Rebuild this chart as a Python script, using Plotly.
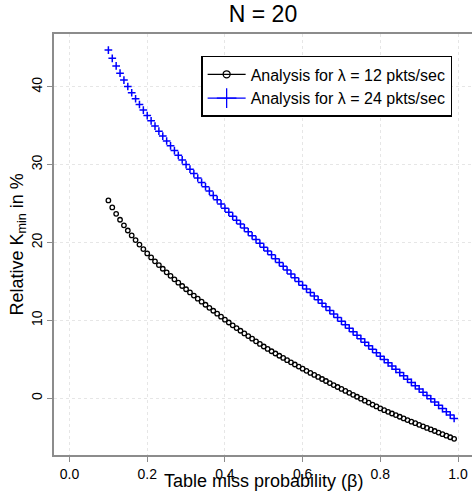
import plotly.graph_objects as go

# ── DATA ──────────────────────────────────────────────────────────────────────

BETA = [round(0.10 + 0.01 * i, 2) for i in range(90)]

K_LAMBDA_12 = [
    25.40, 24.50, 23.68, 22.92, 22.21, 21.54, 20.91, 20.31, 19.73, 19.16,
    18.60, 18.08, 17.58, 17.10, 16.63, 16.17, 15.72, 15.28, 14.85, 14.42,
    14.00, 13.59, 13.19, 12.79, 12.40, 12.01, 11.62, 11.24, 10.86, 10.48,
    10.10, 9.73, 9.37, 9.02, 8.67, 8.33, 7.99, 7.65, 7.31, 6.98,
    6.65, 6.34, 6.04, 5.75, 5.46, 5.18, 4.90, 4.62, 4.34, 4.07,
    3.80, 3.53, 3.26, 3.00, 2.74, 2.48, 2.22, 1.96, 1.70, 1.45,
    1.20, 0.95, 0.70, 0.45, 0.20, -0.05, -0.30, -0.55, -0.80, -1.05,
    -1.30, -1.52, -1.74, -1.95, -2.16, -2.37, -2.58, -2.79, -3.00, -3.20,
    -3.40, -3.60, -3.80, -4.00, -4.20, -4.40, -4.60, -4.80, -5.00, -5.20,
]

K_LAMBDA_24 = [
    44.70, 43.65, 42.67, 41.74, 40.86, 40.03, 39.23, 38.46, 37.72, 37.00,
    36.30, 35.62, 34.95, 34.30, 33.66, 33.03, 32.41, 31.80, 31.20, 30.60,
    30.00, 29.42, 28.85, 28.28, 27.72, 27.16, 26.60, 26.05, 25.50, 24.95,
    24.40, 23.89, 23.38, 22.87, 22.37, 21.87, 21.37, 20.87, 20.38, 19.89,
    19.40, 18.91, 18.42, 17.93, 17.44, 16.95, 16.46, 15.97, 15.48, 14.99,
    14.50, 14.04, 13.58, 13.12, 12.66, 12.20, 11.74, 11.28, 10.82, 10.36,
    9.90, 9.45, 9.00, 8.55, 8.10, 7.65, 7.20, 6.75, 6.30, 5.85,
    5.40, 4.98, 4.56, 4.14, 3.72, 3.30, 2.88, 2.46, 2.04, 1.62,
    1.20, 0.78, 0.36, -0.06, -0.48, -0.90, -1.32, -1.74, -2.16, -2.58,
]

X_TICKS = [0.0, 0.2, 0.4, 0.6, 0.8, 1.0]
X_TICK_LABELS = ["0.0", "0.2", "0.4", "0.6", "0.8", "1.0"]
Y_TICKS = [0, 10, 20, 30, 40]

NAME_12 = "Analysis for λ = 12 pkts/sec"
NAME_24 = "Analysis for λ = 24 pkts/sec"

# ── PLOT ──────────────────────────────────────────────────────────────────────

FONT = "Liberation Sans, Arial, sans-serif"
AXIS_GREY = "#8c8c8c"
GRID = "#e6e6e6"

fig = go.Figure()

fig.add_trace(go.Scatter(
    x=BETA, y=K_LAMBDA_12, mode="markers", showlegend=False,
    marker=dict(symbol="circle-open", size=4.5, color="black", line=dict(width=1.3)),
))
fig.add_trace(go.Scatter(
    x=BETA, y=K_LAMBDA_24, mode="markers", showlegend=False,
    marker=dict(symbol="cross-thin", size=5.5, color="blue", line=dict(width=1.5, color="blue")),
))

# legend entries (line + symbol, like the reference key)
fig.add_trace(go.Scatter(
    x=[None], y=[None], mode="lines+markers", name=NAME_12,
    line=dict(color="black", width=1.3),
    marker=dict(symbol="circle-open", size=7, color="black", line=dict(width=1.3)),
))
fig.add_trace(go.Scatter(
    x=[None], y=[None], mode="lines+markers", name=NAME_24,
    line=dict(color="blue", width=1.3),
    marker=dict(symbol="cross-thin", size=14, color="blue", line=dict(width=1.3, color="blue")),
))

fig.update_layout(
    width=472, height=493,
    margin=dict(l=54, r=0, t=34, b=38),
    paper_bgcolor="white",
    plot_bgcolor="white",
    font=dict(family=FONT, color="black", size=14),
    title=dict(text="N = 20", x=0.5, xref="paper", y=1 - 14 / 493, yanchor="middle",
               font=dict(size=23, family=FONT)),
    xaxis=dict(
        range=[-0.04, 1.036],
        tickvals=X_TICKS, ticktext=X_TICK_LABELS,
        showgrid=True, gridcolor=GRID, griddash="dot", gridwidth=1,
        zeroline=False, automargin=False,
        showline=True, linecolor=AXIS_GREY, linewidth=1.5, mirror=True,
        ticks="outside", ticklen=5, tickcolor=AXIS_GREY,
        tickfont=dict(size=14),
    ),
    yaxis=dict(
        range=[-7.28, 46.77],
        tickvals=Y_TICKS,
        showgrid=True, gridcolor=GRID, griddash="dot", gridwidth=1,
        zeroline=False, automargin=False,
        showline=True, linecolor=AXIS_GREY, linewidth=1.5,
        ticks="outside", ticklen=5, tickcolor=AXIS_GREY,
        tickangle=-90,
        tickfont=dict(size=14),
    ),
    legend=dict(
        x=0.352, y=0.948, xanchor="left", yanchor="top",
        bgcolor="white", bordercolor="black", borderwidth=1.5,
        font=dict(size=16),
        itemwidth=38,
        tracegroupgap=0,
    ),
    annotations=[
        dict(text="Table miss probability (β)", xref="paper", yref="paper",
             x=0.5, y=-26 / 421, yanchor="middle", showarrow=False,
             font=dict(size=18)),
        dict(text="Relative K<sub>min</sub> in %", xref="paper", yref="paper",
             x=(18 - 54) / 418, y=0.5, xanchor="center", textangle=-90, showarrow=False,
             font=dict(size=18)),
    ],
)

# drop the default page margin so the figure sits at the window's top-left
fig.write_html("out.html", config={"displayModeBar": False},
               post_script="document.body.style.margin = '0';")
